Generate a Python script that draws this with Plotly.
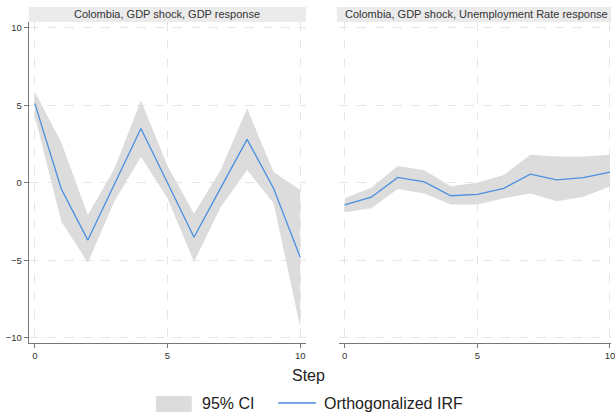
import plotly.graph_objects as go

# Impulse-response estimates, steps 0..10
steps = list(range(11))

gdp_irf = [5.12, -0.4, -3.7, -0.05, 3.5, 0.0, -3.52, -0.35, 2.8, -0.37, -4.8]
gdp_lo = [4.3, -2.5, -5.16, -1.2, 1.68, -1.0, -5.1, -1.6, 0.82, -1.33, -9.3]
gdp_hi = [5.87, 2.6, -2.08, 0.9, 5.3, 1.1, -2.0, 0.8, 4.8, 0.7, -0.47]

unemp_irf = [-1.43, -0.93, 0.34, 0.06, -0.84, -0.75, -0.36, 0.55, 0.18, 0.33, 0.68]
unemp_lo = [-1.9, -1.65, -0.4, -0.7, -1.4, -1.4, -1.0, -0.7, -1.2, -0.9, -0.25]
unemp_hi = [-1.0, -0.33, 1.08, 0.8, -0.22, 0.0, 0.5, 1.8, 1.7, 1.7, 1.8]

panel_titles = [
    "Colombia, GDP shock, GDP response",
    "Colombia, GDP shock, Unemployment Rate response",
]
y_ticks = [-10, -5, 0, 5, 10]
x_ticks = [0, 5, 10]

W, H = 615, 418
BAND = "#dcdcdc"
LINE = "#4a8fe0"
FONT = "Liberation Sans, Arial, sans-serif"

fig = go.Figure()

panels = [
    ("x", "y", gdp_irf, gdp_lo, gdp_hi),
    ("x2", "y2", unemp_irf, unemp_lo, unemp_hi),
]
for xa, ya, irf, lo, hi in panels:
    fig.add_trace(go.Scatter(
        x=steps + steps[::-1], y=hi + lo[::-1],
        fill="toself", fillcolor=BAND, line=dict(width=0, color=BAND),
        mode="lines", hoverinfo="skip", showlegend=False,
        xaxis=xa, yaxis=ya,
    ))
    fig.add_trace(go.Scatter(
        x=steps, y=irf, mode="lines",
        line=dict(color=LINE, width=1.3),
        showlegend=False, xaxis=xa, yaxis=ya,
    ))

# panel geometry in pixels
left_px = (29, 308)
right_px = (341, 615)
top_px, bottom_px = 22, 343

def px_x(p):
    return p / W

def px_y(p):
    return (H - p) / H

y_dom = [px_y(bottom_px), px_y(top_px)]
y_range = [-10.34, 10.37]

grid = dict(showgrid=True, gridcolor="#e6e6e6", griddash="dash", gridwidth=1)
tick_font = dict(size=9.5, color="#333333")

fig.update_layout(
    width=W, height=H,
    margin=dict(l=0, r=0, t=0, b=0),
    paper_bgcolor="white", plot_bgcolor="white",
    font=dict(family=FONT, color="#333333"),
    showlegend=False,
    xaxis=dict(domain=[px_x(left_px[0]), px_x(left_px[1])], range=[-0.225, 10.22],
               tickvals=x_ticks, ticks="outside", ticklen=4, tickcolor="#777777",
               showline=True, linecolor="#777777", linewidth=1, zeroline=False,
               tickfont=tick_font, anchor="y", **grid),
    yaxis=dict(domain=y_dom, range=y_range, tickvals=y_ticks,
               ticks="outside", ticklen=4, tickcolor="#777777",
               showline=True, linecolor="#777777", linewidth=1, zeroline=False,
               tickfont=tick_font, anchor="x", **grid),
    xaxis2=dict(domain=[px_x(right_px[0]), px_x(right_px[1])], range=[-0.225, 10.04],
                tickvals=x_ticks, ticks="outside", ticklen=4, tickcolor="#777777",
                showline=True, linecolor="#777777", linewidth=1, zeroline=False,
                tickfont=tick_font, ticklabeloverflow="allow", anchor="y2", **grid),
    yaxis2=dict(domain=y_dom, range=y_range, tickvals=y_ticks,
                showticklabels=False, showline=False, zeroline=False,
                anchor="x2", **grid),
)

# strip titles above each panel
strip_top, strip_bot = 7, 22
title_centers = [168.5, 480]
for (x0, x1), cx, title in zip([left_px, (339, 615)], title_centers, panel_titles):
    fig.add_shape(type="rect", xref="paper", yref="paper",
                  x0=px_x(x0), x1=px_x(x1),
                  y0=px_y(strip_bot), y1=px_y(strip_top),
                  fillcolor="#ebebeb", line=dict(width=0), layer="below")
    fig.add_annotation(x=px_x(cx), y=px_y((strip_top + strip_bot) / 2),
                       xref="paper", yref="paper",
                       text=title, showarrow=False, xanchor="center", yanchor="middle",
                       font=dict(size=11, color="#333333"))

# shared x-axis title
fig.add_annotation(x=px_x(311), y=px_y(375), xref="paper", yref="paper",
                   text="Step", showarrow=False, xanchor="center", yanchor="middle",
                   font=dict(size=16, color="#222222"))

# legend
fig.add_shape(type="rect", xref="paper", yref="paper",
              x0=px_x(157), x1=px_x(193), y0=px_y(412), y1=px_y(396),
              fillcolor=BAND, line=dict(width=0))
fig.add_annotation(x=px_x(201), y=px_y(403), xref="paper", yref="paper",
                   text="95% CI", showarrow=False, xanchor="left", yanchor="middle",
                   font=dict(size=16, color="#222222"))
fig.add_shape(type="line", xref="paper", yref="paper",
              x0=px_x(280), x1=px_x(318), y0=px_y(403), y1=px_y(403),
              line=dict(color=LINE, width=1.5))
fig.add_annotation(x=px_x(324), y=px_y(403), xref="paper", yref="paper",
                   text="Orthogonalized IRF", showarrow=False, xanchor="left", yanchor="middle",
                   font=dict(size=16, color="#222222"))

fig.write_html("out.html")
